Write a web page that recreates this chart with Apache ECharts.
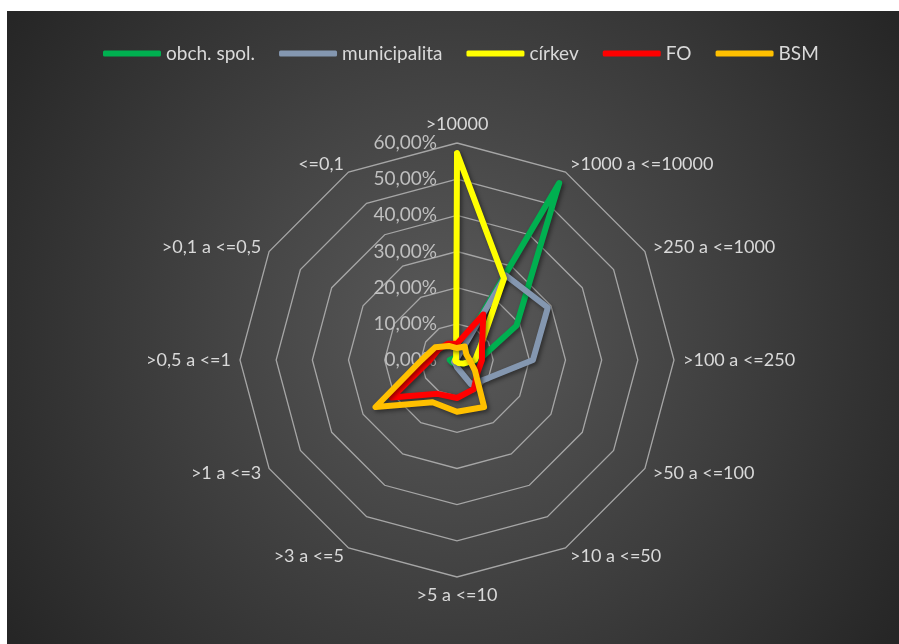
<!DOCTYPE html>
<html lang="cs">
<head>
	<meta charset="utf-8">
	<title>Radar</title>
	<script src="https://cdn.jsdelivr.net/npm/echarts@6/dist/echarts.min.js"></script>
	<style>
		html, body { margin: 0; padding: 0; background: #fff; }
		#chart { position: absolute; left: 7px; top: 11px; width: 892px; height: 633px; }
	</style>
</head>
<body>
<div id="chart"></div>
<script>
// kategorie ve směru hodinových ručiček od vrcholu
var categories = ['>10000', '>1000 a <=10000', '>250 a <=1000', '>100 a <=250', '>50 a <=100', '>10 a <=50',
	'>5 a <=10', '>3 a <=5', '>1 a <=3', '>0,5 a <=1', '>0,1 a <=0,5', '<=0,1'];
var seriesNames = ['obch. spol.', 'municipalita', 'církev', 'FO', 'BSM'];
var obchSpol   = [1, 56.5, 19, 6, 2, 1, 0.8, 1, 1.5, 2, 1, 0.5];
var municipal  = [0.5, 27, 29, 21, 10, 7.8, 2, 1, 1, 0.5, 0.5, 0.5];
var cirkev     = [57.2, 26, 7.5, 5, 2, 1, 0.5, 0.5, 0.5, 0.5, 0.5, 0.5];
var fo         = [4.5, 14.5, 8, 6.9, 6.6, 9.3, 10.5, 10.8, 20.8, 7.5, 5.9, 5.2];
var bsm        = [3.3, 4.3, 3, 3.5, 5.7, 15, 14.3, 13.5, 26, 9.8, 7, 4.5];
var colors = ['#00b050', '#8497b0', '#ffff00', '#ff0000', '#ffc000'];
var axisMax = 60;

// echarts radar jde proti směru hodin, proto pořadí otočíme
function cw(arr) {
	return [arr[0]].concat(arr.slice(1).reverse());
}

var allData = [obchSpol, municipal, cirkev, fo, bsm];
var indicators = cw(categories).map(function (name, i) {
	var ind = { name: name, min: 0, max: axisMax };
	if (i === 0) {
		ind.axisLabel = {
			show: true,
			color: '#bfbfbf',
			fontSize: 19,
			fontFamily: 'Lato',
			margin: 20,
			formatter: function (v) { return v.toFixed(2).replace('.', ',') + '%'; }
		};
	}
	return ind;
});

echarts.init(document.getElementById('chart')).setOption({
	animation: false,
	color: colors,
	backgroundColor: {
		type: 'radial', x: 0.5, y: 0.5, r: 0.85,
		colorStops: [{ offset: 0, color: '#5a5a5a' }, { offset: 1, color: '#262626' }]
	},
	legend: {
		top: 28,
		left: 91,
		icon: 'roundRect',
		itemWidth: 58,
		itemHeight: 6,
		itemGap: 24,
		textStyle: { color: '#d9d9d9', fontSize: 19, fontFamily: 'Lato' },
		data: seriesNames
	},
	radar: {
		center: [450, 349],
		radius: 217,
		shape: 'polygon',
		splitNumber: 6,
		nameGap: 9,
		axisName: { color: '#d9d9d9', fontSize: 18, fontFamily: 'Lato' },
		axisLine: { show: false },
		axisTick: { show: false },
		axisLabel: { show: false },
		splitArea: { show: false },
		splitLine: { lineStyle: { color: '#a6a6a6', width: 1.3 } },
		indicator: indicators
	},
	series: [{
		type: 'radar',
		symbol: 'none',
		data: seriesNames.map(function (name, i) {
			return {
				name: name,
				value: cw(allData[i]),
				lineStyle: {
					color: colors[i], width: 6, join: 'round', cap: 'round',
					shadowColor: 'rgba(0,0,0,0.45)', shadowBlur: 4, shadowOffsetX: 2, shadowOffsetY: 2
				}
			};
		})
	}]
});
</script>
</body>
</html>
